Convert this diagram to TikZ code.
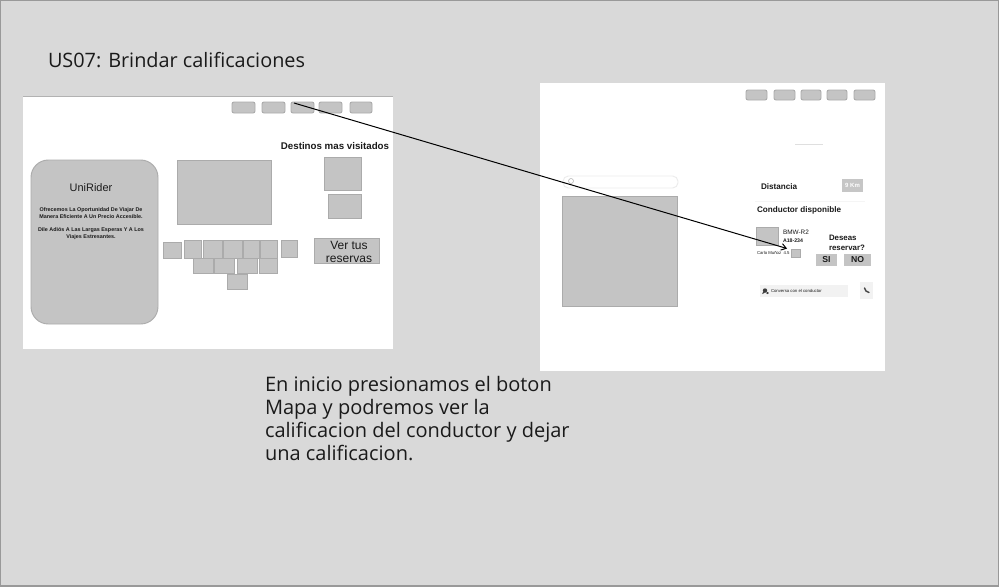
\documentclass[tikz,border=0pt]{standalone}
\usepackage{fontspec}
\setmainfont{Open Sans}
\newfontfamily\boldf{Liberation Sans}
\usetikzlibrary{arrows.meta}
\definecolor{bg}{HTML}{D9D9D9}
\definecolor{boxg}{HTML}{C4C4C4}
\definecolor{edgeg}{HTML}{ABABAB}
\definecolor{ink}{HTML}{1A1A1A}
\tikzset{
  every node/.style={inner sep=0pt,outer sep=0pt,text=ink},
  box/.style={draw=edgeg,fill=boxg,line width=0.7pt},
  btn/.style={box,rounded corners=1.5pt},
  lbl/.style={anchor=west,font=\boldf\bfseries\fontsize{7}{8}\selectfont},
  tiny/.style={anchor=west,font=\boldf\fontsize{3.2}{4}\selectfont},
  soft/.style={fill=boxg,draw=none},
}
\newcommand{\bx}[6][box]{\node[#1,minimum width=#4*0.75pt-#2*0.75pt,minimum height=#6*0.75pt-#5*0.75pt,anchor=north west] (#3) at (#2,#5) {};}
\begin{document}
\begin{tikzpicture}[x=0.75pt,y=-0.75pt]
\useasboundingbox (0,0) rectangle (999,586);
\fill[bg] (0,0) rectangle (999,586);
\draw[color=gray!80,line width=0.8pt] (0,0) rectangle (999,586);
\node[anchor=west,font=\fontsize{14.9}{17}\selectfont] (title) at (48,60) {US07: Brindar calificaciones};
% left frame
\node[fill=white,draw=none,minimum width=277.5pt,minimum height=189.75pt,anchor=north west] (leftframe) at (23,96) {};
\draw[color=gray!60,line width=0.6pt] (leftframe.north west) -- (leftframe.north east);
\bx[btn]{232}{lb1}{255}{102}{113}
\bx[btn]{262}{lb2}{285}{102}{113}
\bx[btn]{291}{lb3}{314}{102}{113}
\bx[btn]{319}{lb4}{342}{102}{113}
\bx[btn]{350}{lb5}{372}{102}{113}
\node[box,rounded corners=13pt,minimum width=95.25pt,minimum height=123pt,anchor=north west] (card) at (31,160) {};
\node[font=\boldf\fontsize{8.2}{10}\selectfont] (uni) at (91,188) {UniRider};
\node[font=\boldf\bfseries\fontsize{4.05}{5.2}\selectfont,align=center] (ofre) at (91,213.5) {Ofrecemos La Oportunidad De Viajar De\\Manera Eficiente A Un Precio Accesible.};
\node[font=\boldf\bfseries\fontsize{4.05}{5.2}\selectfont,align=center] (dile) at (91,233.5) {Dile Adiós A Las Largas Esperas Y A Los\\Viajes Estresantes.};
\bx{177}{bigrect}{271}{160}{224}
\node[font=\boldf\bfseries\fontsize{7.3}{9}\selectfont] (dest) at (335,146) {Destinos mas visitados};
\bx{324}{d1}{361}{157}{190}
\bx{328}{d2}{361}{194}{218}
\bx{163}{s1}{181}{242}{258}
\bx{184}{s2}{201}{240}{258}
\bx{203}{s3}{222}{240}{258}
\bx{223}{s4}{242}{240}{258}
\bx{243}{s5}{259}{240}{258}
\bx{260}{s6}{277}{240}{258}
\bx{281}{s7}{297}{240}{257}
\bx{193}{r1}{213}{258}{273}
\bx{214}{r2}{234}{258}{273}
\bx{237}{r3}{257}{258}{273}
\bx{259}{r4}{277}{258}{273}
\bx{227}{q1}{247}{274}{289}
\bx{314}{ver}{379}{238}{263}
\node[font=\boldf\fontsize{9}{10.2}\selectfont,align=center] (vert) at (349,252) {Ver tus\\reservas};
% right frame
\node[fill=white,draw=none,minimum width=258.75pt,minimum height=216pt,anchor=north west] (rightframe) at (540,83) {};
\bx[btn]{746}{rb1}{767}{90}{100}
\bx[btn]{774}{rb2}{795}{90}{100}
\bx[btn]{801}{rb3}{821}{90}{100}
\bx[btn]{827}{rb4}{847}{90}{100}
\bx[btn]{854}{rb5}{875}{90}{100}
\fill[color=gray!25] (795,143.5) rectangle (823,144.5);
\node[draw=gray!15,fill=white,rounded corners=4pt,line width=0.7pt,minimum width=86.25pt,minimum height=9pt,anchor=north west] (search) at (563,176) {};
\draw[color=gray!60,line width=0.4pt] (571,181) circle (2.5);
\bx{562}{map}{677}{196}{306}
\node[lbl,font=\boldf\bfseries\fontsize{6.1}{8}\selectfont] (dist) at (761,187) {Distancia};
\node[fill=gray!45,minimum width=15.75pt,minimum height=9.75pt,anchor=north west,font=\boldf\bfseries\fontsize{4.5}{5}\selectfont] (km) at (842,179) {\textcolor{white}{9 Km}};
\fill[color=gray!8] (755,200.5) rectangle (865,201.5);
\node[lbl,font=\boldf\bfseries\fontsize{6.1}{8}\selectfont] (cond) at (757,210) {Conductor disponible};
\bx{756}{avatar}{778}{227}{245}
\node[anchor=west,font=\boldf\fontsize{4.8}{6}\selectfont] (bmw) at (783,232) {BMW-R2};
\node[anchor=west,font=\boldf\bfseries\fontsize{3.9}{5}\selectfont] (a18) at (783,241) {A18-234};
\node[tiny] (carlo) at (757,253) {Carlo Muñoz ~4.5};
\bx{791}{star}{800}{249}{257}
\node[lbl,font=\boldf\bfseries\fontsize{5.9}{7.5}\selectfont,align=left] (des) at (829,243) {Deseas\\reservar?};
\node[soft,minimum width=15.75pt,minimum height=9pt,anchor=north west,font=\boldf\bfseries\fontsize{6.5}{8}\selectfont] (si) at (816,254) {SI};
\node[soft,minimum width=20.25pt,minimum height=9pt,anchor=north west,font=\boldf\bfseries\fontsize{6.5}{8}\selectfont] (no) at (844,254) {NO};
\node[fill=gray!10,minimum width=66pt,minimum height=9pt,anchor=north west] (chat) at (760,285) {};
\fill[color=ink!85] (765,290.5) circle (2.2);
\fill[color=ink!85] (763,292) -- (762.2,294) -- (765.5,292.5) -- cycle;
\fill[color=ink!85] (767.5,293) ellipse (1.4 and 1.1);
\node[tiny] (chatt) at (771,290.5) {Conversa con el conductor};
\node[fill=gray!10,minimum width=9.75pt,minimum height=12.75pt,anchor=north west] (phone) at (860,282) {};
\draw[color=ink!80,line width=1.1pt,line cap=round] (864.5,288) .. controls (865,290.5) and (866.5,292) .. (869,292.5);
% arrow
\coordinate (astart) at (294,103);
\coordinate (aend) at (787,248.5);
\draw[-{Straight Barb[length=3.6pt,width=5pt]},color=black,line width=0.75pt] (astart) -- (aend);
\node[anchor=north west,align=left,font=\fontsize{15}{17.3}\selectfont] (body) at (265,376) {En inicio presionamos el boton\\Mapa y podremos ver la\\calificacion del conductor y dejar\\una calificacion.};
\end{tikzpicture}
\end{document}
